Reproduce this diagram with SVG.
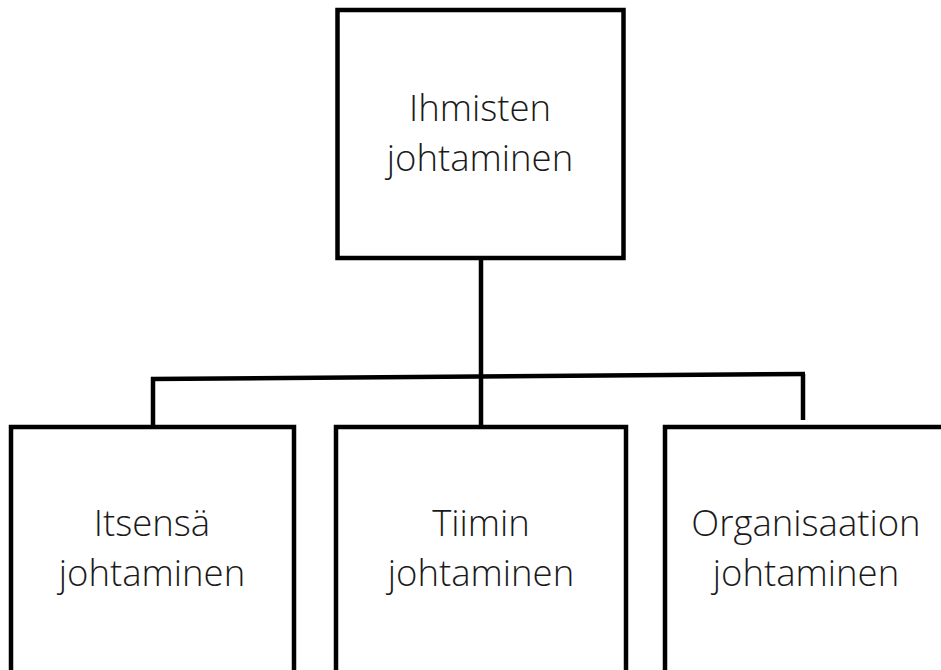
<svg xmlns="http://www.w3.org/2000/svg" width="941" height="670" viewBox="0 0 941 670">
<style>
.box{fill:#fff;stroke:#000;stroke-width:4.5}
.lbl{font-family:"Open Sans","Noto Sans",sans-serif;font-weight:300;font-size:36.5px;fill:#1a1a1a;text-anchor:middle}
.con{fill:none;stroke:#000;stroke-width:4.5;stroke-linecap:butt}
</style>
<rect width="941" height="670" fill="#fff"/>
<g id="connectors">
<path class="con" d="M481 260 V377"/>
<path class="con" d="M151 379 L805 374"/>
<path class="con" d="M153 377 V426"/>
<path class="con" d="M481 377 V426"/>
<path class="con" d="M803 374 V420"/>
</g>
<g id="root">
<rect class="box" x="337.5" y="10" width="286" height="248"/>
<text class="lbl" x="480" y="121">Ihmisten</text>
<text class="lbl" x="480" y="171">johtaminen</text>
</g>
<g id="itse">
<rect class="box" x="11" y="427" width="283" height="260"/>
<text class="lbl" x="152" y="536">Itsensä</text>
<text class="lbl" x="152" y="586">johtaminen</text>
</g>
<g id="tiimi">
<rect class="box" x="336" y="427" width="290" height="260"/>
<text class="lbl" x="481" y="536">Tiimin</text>
<text class="lbl" x="481" y="586">johtaminen</text>
</g>
<g id="org">
<rect class="box" x="665" y="427" width="290" height="260"/>
<text class="lbl" x="806" y="536">Organisaation</text>
<text class="lbl" x="806" y="586">johtaminen</text>
</g>
</svg>
